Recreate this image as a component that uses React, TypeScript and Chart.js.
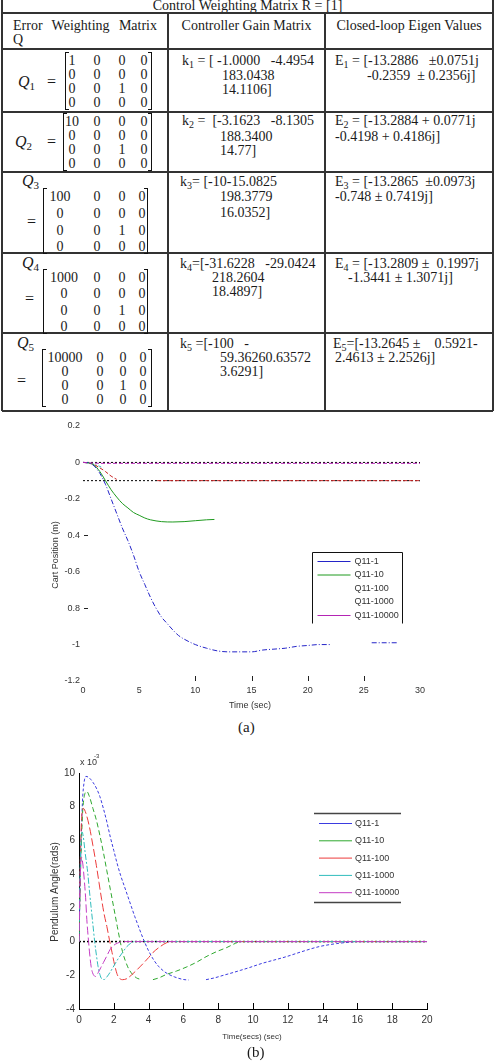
import React, { useEffect, useRef } from "react";
import { Chart, registerables } from "chart.js";
Chart.register(...registerables);

// ---------------- Table content ----------------
const tableTitle = "Control Weighting Matrix R = [1]";
const headerCol1 = ["Error Weighting Matrix", "Q"];
const headerCol2 = "Controller Gain Matrix";
const headerCol3 = "Closed-loop Eigen Values";
const qSubscripts = ["1", "2", "3", "4", "5"];
const qMatrices: string[][][] = [
  [["1", "0", "0", "0"], ["0", "0", "0", "0"], ["0", "0", "1", "0"], ["0", "0", "0", "0"]],
  [["10", "0", "0", "0"], ["0", "0", "0", "0"], ["0", "0", "1", "0"], ["0", "0", "0", "0"]],
  [["100", "0", "0", "0"], ["0", "0", "0", "0"], ["0", "0", "1", "0"], ["0", "0", "0", "0"]],
  [["1000", "0", "0", "0"], ["0", "0", "0", "0"], ["0", "0", "1", "0"], ["0", "0", "0", "0"]],
  [["10000", "0", "0", "0"], ["0", "0", "0", "0"], ["0", "0", "1", "0"], ["0", "0", "0", "0"]],
];
const gainFirst = [
  " = [ -1.0000   -4.4954",
  " =  [-3.1623   -8.1305",
  "= [-10-15.0825",
  "=[-31.6228   -29.0424",
  " =[-100   -",
];
const gainMore = [
  ["183.0438", "14.1106]"],
  ["188.3400", "14.77]"],
  ["198.3779", "16.0352]"],
  ["218.2604", "18.4897]"],
  ["59.36260.63572", "3.6291]"],
];
const eigFirst = [
  " = [-13.2886   \u00b10.0751j",
  " = [-13.2884 + 0.0771j",
  " = [-13.2865  \u00b10.0973j",
  " = [-13.2809 \u00b1  0.1997j",
  "=[-13.2645 \u00b1    0.5921-",
];
const eigMore = [
  "-0.2359  \u00b1 0.2356j]",
  "-0.4198 + 0.4186j]",
  "-0.748 \u00b1 0.7419j]",
  "-1.3441 \u00b1 1.3071j]",
  "2.4613 \u00b1 2.2526j]",
];

// ---------------- Chart (a) data: cart position ----------------
const seriesLabels = ["Q11-1", "Q11-10", "Q11-100", "Q11-1000", "Q11-10000"];
const tA1 = [0, 0.5, 1, 1.5, 2, 2.5, 3, 3.5, 4, 4.5, 5, 5.5, 6, 6.5, 7, 7.5, 8, 8.5, 9, 10, 11, 12, 13, 14, 15, 16, 17, 18, 19, 20, 21, 22, 23.8, 25.7, 27, 28];
const yA1 = [0, -0.003, -0.02, -0.06, -0.12, -0.2, -0.28, -0.36, -0.43, -0.51, -0.6, -0.67, -0.74, -0.8, -0.85, -0.885, -0.92, -0.95, -0.97, -1.0, -1.02, -1.035, -1.04, -1.04, -1.04, -1.03, -1.025, -1.02, -1.01, -1.005, -1.0, -1.0, null, -0.99, -0.99, -0.99];
const tA2 = [0, 0.5, 1, 1.5, 2, 2.5, 3, 3.5, 4, 4.5, 5, 5.5, 6, 7, 8, 9, 10, 11, 11.7];
const yA2 = [0, -0.003, -0.015, -0.05, -0.1, -0.15, -0.19, -0.225, -0.25, -0.275, -0.29, -0.305, -0.315, -0.325, -0.327, -0.325, -0.32, -0.315, -0.313];
const tA3 = [0, 0.5, 1, 1.5, 2, 2.5, 3, 4.8, 6.6, 10, 15, 20, 25, 30];
const yA3 = [0, -0.003, -0.012, -0.03, -0.05, -0.075, -0.093, null, -0.1, -0.1, -0.1, -0.1, -0.1, -0.1];
const tA4 = [0, 0.5, 1, 1.5, 1.8];
const yA4 = [0, -0.002, -0.01, -0.022, -0.03];
const tA5 = [0, 0.5, 1, 2, 5, 10, 15, 20, 25, 30];
const yA5 = [0, -0.002, -0.004, -0.005, -0.005, -0.005, -0.005, -0.005, -0.005, -0.005];
const refLevelsA = [0, -0.1];
const refSpanA = [0, 30];
const xTicksA = [0, 5, 10, 15, 20, 25, 30];
const yTicksA = [-1.2, -1, -0.8, -0.6, -0.4, -0.2, 0, 0.2];
const yTickLabelsA = ["-1.2", "-1", "0.8", "-0.6", "0.4", "-0.2", "0", "0.2"];
const xTickMarksA = [10, 15, 20, 25];
const yTickMarksA = [-0.4, -0.8];
const xTitleA = "Time (sec)";
const yTitleA = "Cart Position (m)";

// ---------------- Chart (b) data: pendulum angle (x 10^-3) ----------------
const tB1 = [0, 0.1, 0.2, 0.3, 0.4, 0.6, 0.8, 1.0, 1.2, 1.4, 1.6, 1.8, 2.0, 2.2, 2.4, 2.6, 2.8, 3.0, 3.2, 3.4, 3.6, 3.8, 4.0, 4.3, 4.6, 5.0, 5.5, 6.0, 6.3, 6.8, 7.3, 7.8, 8.3, 8.85, 9.3, 9.8, 10.5, 11.2, 11.9, 12.8, 13.8, 14.8, 15.5, 16, 18, 20];
const yB1 = [0, 5.0, 8.3, 9.5, 9.8, 9.7, 9.45, 9.1, 8.6, 7.9, 7.1, 6.2, 5.4, 4.6, 3.9, 3.3, 2.7, 2.1, 1.5, 0.95, 0.4, -0.1, -0.55, -1.1, -1.5, -1.85, -2.1, -2.25, -2.28, null, -2.26, -2.15, -2.0, -1.84, -1.7, -1.54, -1.3, -1.1, -0.9, -0.6, -0.3, -0.12, -0.04, 0, 0, 0];
const tB2 = [0, 0.1, 0.2, 0.3, 0.45, 0.6, 0.8, 1.0, 1.2, 1.4, 1.6, 1.8, 2.0, 2.2, 2.35, 2.5, 2.8, 3.0, 3.3, 3.6, 3.9, 4.25, 4.6, 5.0, 5.6, 6.2, 6.8, 7.3, 7.9, 8.5, 9.0, 9.3, 12, 16, 20];
const yB2 = [0, 4.5, 7.5, 8.6, 8.9, 8.6, 7.9, 7.2, 6.3, 5.3, 4.2, 3.1, 2.0, 0.9, 0.1, -0.6, -1.5, -1.85, -2.15, -2.26, null, -2.26, -2.15, -1.96, -1.75, -1.5, -1.2, -0.9, -0.6, -0.35, -0.1, 0, 0, 0, 0];
const tB3 = [0, 0.08, 0.15, 0.25, 0.4, 0.6, 0.8, 1.0, 1.15, 1.3, 1.45, 1.6, 1.75, 1.9, 2.05, 2.2, 2.35, 2.5, 2.75, 3.0, 3.5, 4.0, 4.25, 4.6, 5.05, 5.4, 10, 15, 20];
const yB3 = [0, 5.0, 7.3, 7.9, 7.6, 6.8, 5.7, 4.5, 3.5, 2.5, 1.6, 0.9, 0.1, -0.65, -1.4, -1.96, -2.2, -2.26, -2.2, -2.0, -1.5, -0.95, -0.65, -0.35, -0.06, 0, 0, 0, 0];
const tB4 = [0, 0.06, 0.12, 0.18, 0.25, 0.35, 0.5, 0.6, 0.73, 0.82, 0.9, 1.0, 1.1, 1.2, 1.3, 1.45, 1.6, 1.8, 2.0, 2.2, 2.5, 2.75, 3.0, 3.2, 10, 20];
const yB4 = [0, 4.0, 6.0, 6.5, 6.2, 5.3, 4.1, 3.0, 1.7, 0.8, 0, -0.8, -1.5, -1.95, -2.2, -2.25, -2.1, -1.8, -1.45, -1.1, -0.65, -0.3, -0.08, 0, 0, 0];
const tB5 = [0, 0.04, 0.08, 0.15, 0.22, 0.3, 0.38, 0.45, 0.55, 0.62, 0.7, 0.78, 0.85, 0.95, 1.1, 1.25, 1.4, 1.6, 1.8, 2.0, 2.2, 2.5, 10, 20];
const yB5 = [0, 2.5, 4.2, 5.0, 4.6, 3.7, 2.6, 1.3, 0, -0.8, -1.5, -1.85, -2.0, -2.07, -1.85, -1.55, -1.25, -0.85, -0.45, -0.22, -0.1, 0, 0, 0];
const refSpanB = [0, 20];
const xTicksB = [0, 2, 4, 6, 8, 10, 12, 14, 16, 18, 20];
const yTicksB = [-4, -2, 0, 2, 4, 6, 8, 10];
const xTitleB = "Time(secs) (sec)";
const yTitleB = "Pendulum Angle(rads)";
const expBase = "x 10";
const expPower = "-3";

// ---------------- styles ----------------
const SANS = '"Liberation Sans", Arial, sans-serif';
const SERIF = '"Liberation Serif", "Times New Roman", serif';
const colorsA = ["#2424c8", "#1f9a1f", "#c82424", "#2cc0c0", "#b424b4"];
const dashA = [[5, 2, 1, 2], [], [4, 2], [3, 2, 1, 2], [4, 2]];
const legendLineA = [true, true, false, false, true];
const colorsB = ["#3b3be0", "#2ea82e", "#ec3b3b", "#2fbcbc", "#c43cc4"];
const dashB = [[3, 2], [5, 3], [8, 3], [6, 2, 2, 2], [8, 3]];

const pts = (xs: number[], ys: (number | null)[]) => xs.map((x, i) => ({ x, y: ys[i] }));

function buildA(): any {
  const series = [pts(tA1, yA1), pts(tA2, yA2), pts(tA3, yA3), pts(tA4, yA4), pts(tA5, yA5)];
  const datasets: any[] = series.map((d, i) => ({
    label: seriesLabels[i],
    data: d,
    borderColor: colorsA[i],
    borderDash: dashA[i],
    borderWidth: 1,
    pointRadius: 0,
    spanGaps: false,
    cubicInterpolationMode: "monotone",
    order: i === 4 ? 1 : 2,
  }));
  refLevelsA.forEach((lv) =>
    datasets.push({
      label: "ref",
      data: refSpanA.map((x) => ({ x, y: lv })),
      borderColor: "#000",
      borderDash: [2, 2],
      borderWidth: 1,
      pointRadius: 0,
      order: 10,
    })
  );
  const overlay = {
    id: "overlayA",
    afterDraw(chart: any) {
      const { ctx, chartArea, scales } = chart;
      ctx.save();
      ctx.strokeStyle = "#222";
      ctx.lineWidth = 1;
      xTickMarksA.forEach((v) => {
        const x = Math.round(scales.x.getPixelForValue(v)) + 0.5;
        ctx.beginPath();
        ctx.moveTo(x, chartArea.bottom);
        ctx.lineTo(x, chartArea.bottom - 5);
        ctx.stroke();
      });
      yTickMarksA.forEach((v) => {
        const y = Math.round(scales.y.getPixelForValue(v)) + 0.5;
        ctx.beginPath();
        ctx.moveTo(chartArea.left + 1, y);
        ctx.lineTo(chartArea.left + 5, y);
        ctx.stroke();
      });
      ctx.fillStyle = "#333";
      ctx.font = `9px ${SANS}`;
      ctx.textAlign = "center";
      ctx.textBaseline = "middle";
      ctx.fillText(xTitleA, 250, 294);
      ctx.save();
      ctx.translate(56, 143);
      ctx.rotate(-Math.PI / 2);
      ctx.fillText(yTitleA, 0, 0);
      ctx.restore();
      // legend
      const lx = 312.5, ly = 140.5, lw = 90, lh = 71;
      ctx.strokeStyle = "#111";
      ctx.beginPath();
      ctx.moveTo(lx, ly + lh);
      ctx.lineTo(lx, ly);
      ctx.lineTo(lx + lw, ly);
      ctx.lineTo(lx + lw, ly + lh);
      ctx.stroke();
      seriesLabels.forEach((lab, i) => {
        const y = ly + 9 + i * 13.5;
        if (legendLineA[i]) {
          ctx.strokeStyle = colorsA[i];
          ctx.beginPath();
          ctx.moveTo(lx + 5, y);
          ctx.lineTo(lx + 38, y);
          ctx.stroke();
        }
        ctx.fillStyle = "#333";
        ctx.textAlign = "left";
        ctx.fillText(lab, lx + 42, y);
      });
      ctx.restore();
    },
  };
  return {
    type: "line",
    data: { datasets },
    plugins: [overlay],
    options: {
      responsive: false,
      animation: false,
      devicePixelRatio: 1,
      layout: { padding: { left: 0, right: 75, top: 14, bottom: 0 } },
      plugins: { legend: { display: false }, tooltip: { enabled: false } },
      scales: {
        x: {
          type: "linear",
          min: 0,
          max: 30,
          afterBuildTicks: (s: any) => { s.ticks = xTicksA.map((v) => ({ value: v })); },
          afterFit: (s: any) => { s.height = 31; },
          grid: { display: false, drawTicks: false },
          border: { display: false },
          ticks: { padding: 4, font: { family: SANS, size: 9 }, color: "#333", maxRotation: 0, autoSkip: false, callback: (v: any) => String(v) },
        },
        y: {
          type: "linear",
          min: -1.2,
          max: 0.2,
          afterBuildTicks: (s: any) => { s.ticks = yTicksA.map((v) => ({ value: v })); },
          afterFit: (s: any) => { s.width = 83; },
          grid: { display: false, drawTicks: false },
          border: { display: false },
          ticks: { padding: 3, font: { family: SANS, size: 9 }, color: "#333", autoSkip: false, callback: (_v: any, i: number) => yTickLabelsA[i] },
        },
      },
    },
  };
}

function buildB(): any {
  const series = [pts(tB1, yB1), pts(tB2, yB2), pts(tB3, yB3), pts(tB4, yB4), pts(tB5, yB5)];
  const datasets: any[] = series.map((d, i) => ({
    label: seriesLabels[i],
    data: d,
    borderColor: colorsB[i],
    borderDash: dashB[i],
    borderWidth: 1,
    pointRadius: 0,
    spanGaps: false,
    cubicInterpolationMode: "monotone",
    order: 5 - i,
  }));
  datasets.push({
    label: "ref",
    data: refSpanB.map((x) => ({ x, y: 0 })),
    borderColor: "#000",
    borderDash: [2, 2],
    borderWidth: 1.5,
    pointRadius: 0,
    order: 20,
  });
  const overlay = {
    id: "overlayB",
    afterDraw(chart: any) {
      const { ctx, chartArea, scales } = chart;
      ctx.save();
      ctx.strokeStyle = "#000";
      ctx.lineWidth = 1;
      xTicksB.forEach((v) => {
        const x = Math.round(scales.x.getPixelForValue(v)) + 0.5;
        ctx.beginPath();
        ctx.moveTo(x, chartArea.bottom);
        ctx.lineTo(x, chartArea.bottom - 6);
        ctx.stroke();
      });
      ctx.fillStyle = "#333";
      ctx.textBaseline = "middle";
      ctx.textAlign = "center";
      ctx.font = `8px ${SANS}`;
      ctx.fillText(xTitleB, 252, 292);
      ctx.font = `10px ${SANS}`;
      ctx.save();
      ctx.translate(55, 147);
      ctx.rotate(-Math.PI / 2);
      ctx.fillText(yTitleB, 0, 0);
      ctx.restore();
      ctx.textAlign = "left";
      ctx.font = `9px ${SANS}`;
      ctx.fillText(expBase, 80, 18);
      ctx.font = `6px ${SANS}`;
      ctx.fillText(expPower, 94, 11);
      // legend
      const lx = 314, lw = 87, top = 68.5, bottom = 157.5;
      ctx.strokeStyle = "#444";
      ctx.lineWidth = 1.5;
      ctx.beginPath();
      ctx.moveTo(lx, top);
      ctx.lineTo(lx + lw, top);
      ctx.moveTo(lx, bottom);
      ctx.lineTo(lx + lw, bottom);
      ctx.stroke();
      ctx.lineWidth = 1;
      ctx.font = `9px ${SANS}`;
      seriesLabels.forEach((lab, i) => {
        const y = top + 10 + i * 17.3;
        ctx.strokeStyle = colorsB[i];
        ctx.beginPath();
        ctx.moveTo(lx + 5, y);
        ctx.lineTo(lx + 38, y);
        ctx.stroke();
        ctx.fillStyle = "#333";
        ctx.fillText(lab, lx + 41, y);
      });
      ctx.restore();
    },
  };
  return {
    type: "line",
    data: { datasets },
    plugins: [overlay],
    options: {
      responsive: false,
      animation: false,
      devicePixelRatio: 1,
      layout: { padding: { left: 0, right: 68, top: 28, bottom: 0 } },
      plugins: { legend: { display: false }, tooltip: { enabled: false } },
      scales: {
        x: {
          type: "linear",
          min: 0,
          max: 20,
          afterBuildTicks: (s: any) => { s.ticks = xTicksB.map((v) => ({ value: v })); },
          afterFit: (s: any) => { s.height = 36; },
          grid: { display: false, drawTicks: false },
          border: { display: true, color: "#000", width: 1 },
          ticks: { padding: 5, font: { family: SANS, size: 10 }, color: "#333", maxRotation: 0, autoSkip: false, callback: (v: any) => String(v) },
        },
        y: {
          type: "linear",
          min: -4,
          max: 10,
          afterBuildTicks: (s: any) => { s.ticks = yTicksB.map((v) => ({ value: v })); },
          afterFit: (s: any) => { s.width = 79; },
          grid: { display: false, drawTicks: false },
          border: { display: true, color: "#000", width: 1 },
          ticks: { padding: 4, font: { family: SANS, size: 10 }, color: "#333", autoSkip: false, callback: (v: any) => String(v) },
        },
      },
    },
  };
}

function ChartCanvas({ top, height, build }: { top: number; height: number; build: () => any }) {
  const ref = useRef<HTMLCanvasElement>(null);
  useEffect(() => {
    const chart = new Chart(ref.current as HTMLCanvasElement, build());
    return () => chart.destroy();
  }, []);
  return (
    <canvas
      ref={ref}
      width={495}
      height={height}
      style={{ position: "absolute", left: 0, top, width: 495, height }}
    />
  );
}

// ---------------- table layout (positions only) ----------------
const rowLines = [13, 49, 112, 172, 253, 333, 411];
const colLines = [2, 168, 325, 493];
const qLayout = [
  { label: [18, 82], eq: [47, 82], rows: [60, 74, 88, 102], br: [65, 152], cols: [72, 97, 122, 144], k: [[182, 60], [222, 75], [222, 89]], e: [[335, 60], [367, 75]] },
  { label: [15, 142], eq: [47, 142], rows: [121, 135, 149, 163], br: [63, 152], cols: [72, 97, 122, 144], k: [[182, 120], [220, 136], [220, 150]], e: [[335, 120], [335, 136]] },
  { label: [22, 181], eq: [27, 222], rows: [196, 213, 230, 246], br: [43, 148], cols: [60, 97, 122, 142], k: [[180, 181], [220, 196], [220, 212]], e: [[335, 181], [335, 196]] },
  { label: [22, 263], eq: [25, 299], rows: [277, 293, 310, 326], br: [43, 148], cols: [64, 97, 122, 142], k: [[180, 263], [212, 277], [212, 291]], e: [[335, 263], [348, 277]] },
  { label: [17, 343], eq: [17, 381], rows: [357, 371, 385, 399], br: [42, 152], cols: [65, 100, 123, 143], k: [[180, 343], [220, 357], [220, 371]], e: [[333, 343], [335, 357]] },
];

const LINE = "#333";

function Txt({ x, y, children, size = 14, style = {} }: any) {
  return (
    <div style={{ position: "absolute", left: x, top: y - 7.5, fontSize: size, lineHeight: "15px", whiteSpace: "pre", ...style }}>
      {children}
    </div>
  );
}

function Sub({ children }: any) {
  return <span style={{ fontSize: 10, position: "relative", top: 3 }}>{children}</span>;
}

function Table() {
  const items: any[] = [];
  rowLines.forEach((y, i) =>
    items.push(<div key={"h" + i} style={{ position: "absolute", left: 2, top: y - 0.75, width: 491, height: 1.5, background: LINE }} />)
  );
  colLines.forEach((x, i) => {
    const t = i === 0 || i === 3 ? 0 : 13;
    items.push(<div key={"v" + i} style={{ position: "absolute", left: x - 0.75, top: t, width: 1.5, height: 411 - t, background: LINE }} />);
  });
  qLayout.forEach((L, r) => {
    items.push(
      <div key={"ql" + r} style={{ position: "absolute", left: L.label[0], top: L.label[1] - 9, fontSize: 16, lineHeight: "18px", fontStyle: "italic", whiteSpace: "pre" }}>
        Q<span style={{ fontSize: 11, fontStyle: "normal", position: "relative", top: 3 }}>{qSubscripts[r]}</span>
      </div>
    );
    items.push(
      <div key={"qe" + r} style={{ position: "absolute", left: L.eq[0], top: L.eq[1] - 9, fontSize: 16, lineHeight: "18px" }}>=</div>
    );
    const bt = L.rows[0] - 8;
    const bh = L.rows[3] - L.rows[0] + 16;
    items.push(<div key={"bl" + r} style={{ position: "absolute", left: L.br[0], top: bt, width: 4, height: bh, borderLeft: "1px solid #111", borderTop: "1px solid #111", borderBottom: "1px solid #111", boxSizing: "border-box" }} />);
    items.push(<div key={"brr" + r} style={{ position: "absolute", left: L.br[1] - 4, top: bt, width: 4, height: bh, borderRight: "1px solid #111", borderTop: "1px solid #111", borderBottom: "1px solid #111", boxSizing: "border-box" }} />);
    qMatrices[r].forEach((row, ri) =>
      row.forEach((cell, ci) =>
        items.push(
          <div key={`m${r}-${ri}-${ci}`} style={{ position: "absolute", left: L.cols[ci] - 25, width: 50, textAlign: "center", top: L.rows[ri] - 7.5, fontSize: 14, lineHeight: "15px" }}>
            {cell}
          </div>
        )
      )
    );
    items.push(
      <Txt key={"k0" + r} x={L.k[0][0]} y={L.k[0][1]}>
        k<Sub>{qSubscripts[r]}</Sub>{gainFirst[r]}
      </Txt>
    );
    gainMore[r].forEach((s, j) =>
      items.push(<Txt key={`k${j + 1}-${r}`} x={L.k[j + 1][0]} y={L.k[j + 1][1]}>{s}</Txt>)
    );
    items.push(
      <Txt key={"e0" + r} x={L.e[0][0]} y={L.e[0][1]}>
        E<Sub>{qSubscripts[r]}</Sub>{eigFirst[r]}
      </Txt>
    );
    items.push(<Txt key={"e1" + r} x={L.e[1][0]} y={L.e[1][1]}>{eigMore[r]}</Txt>);
  });
  return (
    <>
      <div style={{ position: "absolute", left: 2, top: -1, width: 491, textAlign: "center", fontSize: 14, lineHeight: "14px" }}>{tableTitle}</div>
      <div style={{ position: "absolute", left: 13, top: 18, width: 144, fontSize: 14, lineHeight: "15px", textAlign: "justify", textAlignLast: "justify" as any }}>{headerCol1[0]}</div>
      <div style={{ position: "absolute", left: 13, top: 32, fontSize: 14, lineHeight: "15px" }}>{headerCol1[1]}</div>
      <div style={{ position: "absolute", left: 168, top: 18, width: 157, textAlign: "center", fontSize: 14, lineHeight: "15px" }}>{headerCol2}</div>
      <div style={{ position: "absolute", left: 325, top: 18, width: 168, textAlign: "center", fontSize: 14, lineHeight: "15px" }}>{headerCol3}</div>
      {items}
    </>
  );
}

export default function App() {
  return (
    <div style={{ position: "relative", width: 495, height: 1062, background: "#fff", overflow: "hidden", fontFamily: SERIF, color: "#1a1a1a" }}>
      <style>{"body{margin:0;}"}</style>
      <Table />
      <ChartCanvas top={412} height={300} build={buildA} />
      <div style={{ position: "absolute", left: 238, top: 718, fontSize: 15, lineHeight: "18px" }}>(a)</div>
      <ChartCanvas top={745} height={300} build={buildB} />
      <div style={{ position: "absolute", left: 247, top: 1043, fontSize: 15, lineHeight: "18px" }}>(b)</div>
    </div>
  );
}
